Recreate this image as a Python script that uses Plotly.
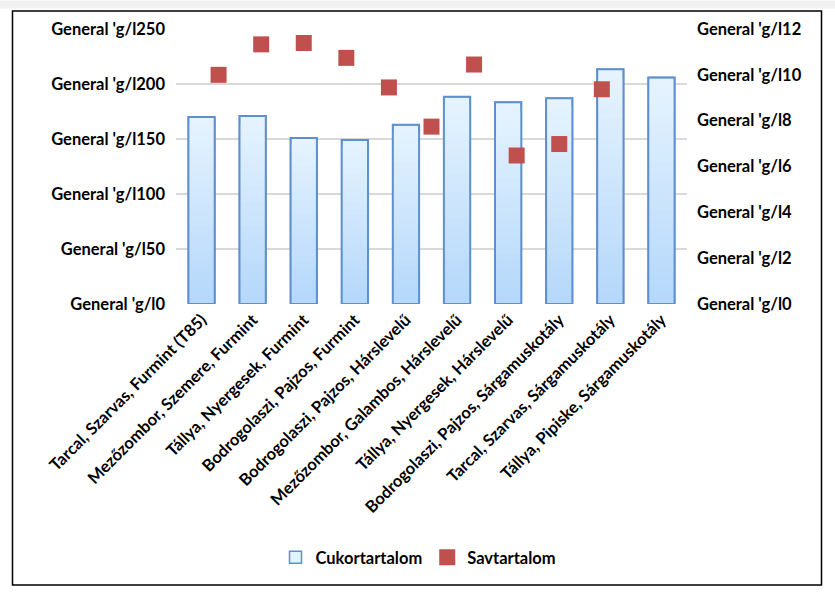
import plotly.graph_objects as go

categories = [
    "Tarcal, Szarvas, Furmint (T85)",
    "Mezőzombor, Szemere, Furmint",
    "Tállya, Nyergesek, Furmint",
    "Bodrogolaszi, Pajzos, Furmint",
    "Bodrogolaszi, Pajzos, Hárslevelű",
    "Mezőzombor, Galambos, Hárslevelű",
    "Tállya, Nyergesek, Hárslevelű",
    "Bodrogolaszi, Pajzos, Sárgamuskotály",
    "Tarcal, Szarvas, Sárgamuskotály",
    "Tállya, Pipiske, Sárgamuskotály",
]
cukortartalom = [170, 171, 151, 149, 163, 188.5, 183.5, 187, 213.5, 206]
savtartalom = [10.0, 11.33, 11.39, 10.74, 9.45, 7.74, 10.45, 6.48, 6.98, 9.37]
left_ticks = [0, 50, 100, 150, 200, 250]
right_ticks = [0, 2, 4, 6, 8, 10, 12]
tick_prefix = "General 'g/l"

W, H = 835, 596
PL, PR, PT, PB = 176, 687, 28.5, 304.5

FONT = dict(family="Lato, 'Open Sans', sans-serif", size=16.5, color="#000000", weight="bold")

fig = go.Figure()

# gradient bars built from overlaid slices of each bar
N = 24
top_rgb = (230, 244, 254)
bot_rgb = (180, 215, 251)
for k in range(N, 0, -1):
    f = k / N
    t = (k - 0.5) / N
    c = tuple(round(bot_rgb[i] + (top_rgb[i] - bot_rgb[i]) * t) for i in range(3))
    first = (k == N)
    fig.add_trace(go.Bar(
        x=categories, y=[v * f for v in cukortartalom],
        name="Cukortartalom", showlegend=first,
        marker=dict(color="rgb(%d,%d,%d)" % c,
                    line=dict(color="#5f8fcf", width=1.5) if first else dict(width=0)),
        width=0.515, hoverinfo="skip" if not first else None,
        legendrank=1,
    ))
fig.add_trace(go.Bar(
    x=categories, y=cukortartalom, showlegend=False,
    marker=dict(color="rgba(0,0,0,0)", line=dict(color="#5f8fcf", width=2)),
    width=0.515,
))

fig.add_trace(go.Scatter(
    x=list(range(1, len(savtartalom) + 1)), y=savtartalom,
    mode="markers", name="Savtartalom",
    marker=dict(symbol="square", size=16, color="#c0504d"),
    xaxis="x2", yaxis="y2", legendrank=2,
))

fig.update_layout(
    width=W, height=H,
    margin=dict(l=PL, r=W - PR, t=PT, b=H - PB, pad=0),
    paper_bgcolor="white", plot_bgcolor="white",
    barmode="overlay", bargap=0.485,
    font=FONT,
    xaxis=dict(type="category", tickangle=-45, showgrid=False, showline=False,
               ticks="", tickfont=FONT, range=[-0.5, 9.5],
               ticklabelstandoff=2),
    xaxis2=dict(overlaying="x", range=[0, 12], visible=False),
    yaxis=dict(range=[0, 250], tickmode="array", tickvals=left_ticks,
               ticktext=[tick_prefix + str(v) for v in left_ticks],
               showgrid=True, gridcolor="#d9d9d9", gridwidth=1.5, zeroline=False,
               showline=False, ticks="", ticklabelstandoff=10,
               tickfont=FONT),
    yaxis2=dict(overlaying="y", side="right", range=[0, 12], tickmode="array",
                tickvals=right_ticks,
                ticktext=[tick_prefix + str(v) for v in right_ticks],
                showgrid=False, zeroline=False,
                showline=False, ticks="", ticklabelstandoff=9,
                tickfont=FONT),
    legend=dict(orientation="h", x=0.5 - 13 / (PR - PL), xanchor="center",
                y=(PB - 559) / (PB - PT), yanchor="middle",
                font=FONT, itemwidth=30, traceorder="normal",
                bgcolor="rgba(0,0,0,0)"),
    showlegend=True,
)

def px_x(p):
    return (p - PL) / (PR - PL)

def px_y(p):
    return (PB - p) / (PB - PT)

fig.add_shape(type="rect", xref="paper", yref="paper",
              x0=px_x(0), x1=px_x(W), y0=px_y(0), y1=px_y(8),
              fillcolor="#f1f1f1", line=dict(width=0), layer="below")
fig.add_shape(type="rect", xref="paper", yref="paper",
              x0=px_x(12.5), x1=px_x(821.5), y0=px_y(10.5), y1=px_y(586.5),
              line=dict(color="#000000", width=1.5), fillcolor="rgba(0,0,0,0)",
              layer="above")

fig.write_html("out.html")
